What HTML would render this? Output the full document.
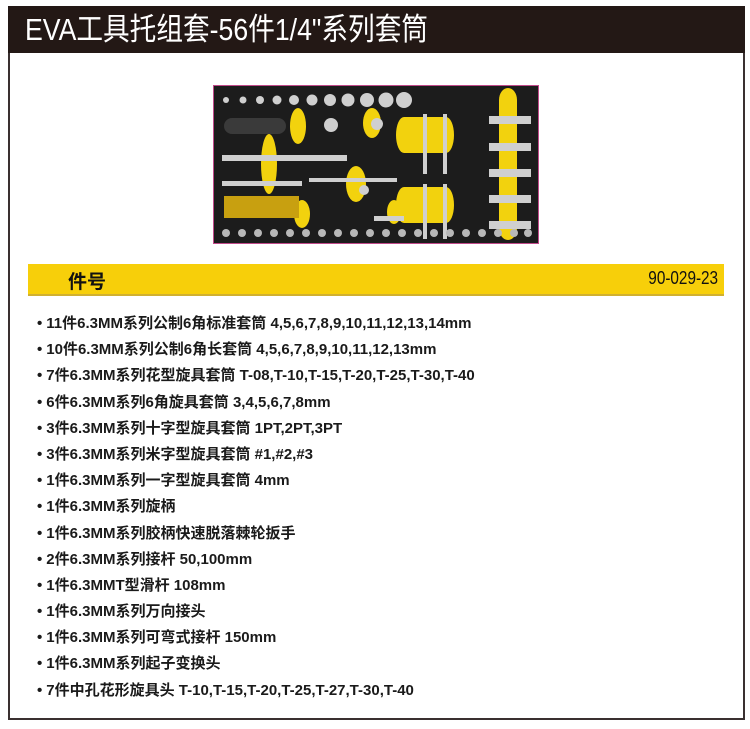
<!DOCTYPE html>
<html><head><meta charset="utf-8"><style>
*{margin:0;padding:0;box-sizing:border-box}
body{width:750px;height:729px;background:#fff;position:relative;overflow:hidden;font-family:"Liberation Sans","Noto Sans CJK SC",sans-serif}
.frame{position:absolute;left:8px;top:6px;width:737px;height:714px;border:2px solid #3a3030}
.hdr{position:absolute;left:8px;top:6px;width:737px;height:47px;background:#231815;color:#fff;font-size:31px;line-height:47px;padding-left:17px}
.hdr span{display:inline-block;transform:scaleX(.86);transform-origin:left;white-space:nowrap}
.photo{position:absolute;left:213px;top:85px;width:326px;height:159px;background:#1c1c1c;border:1px solid #c04a8a;overflow:hidden}
.bar{position:absolute;left:28px;top:264px;width:696px;height:32px;background:#f7cf0a;border-bottom:2px solid #d0b030}
.bar .l{position:absolute;left:40px;top:3px;font-size:19px;font-weight:bold;color:#111}
.bar .r{position:absolute;right:6px;top:4px;font-size:18px;color:#111;transform:scaleX(.85);transform-origin:right}
ul{position:absolute;left:37px;top:313px;list-style:none}
li{height:26.2px;line-height:22px;font-size:15px;font-weight:bold;color:#1a1a1a;white-space:nowrap}
li:before{content:"•";margin-right:4px}
</style></head><body>
<div class="frame"></div>
<div class="hdr"><span>EVA工具托组套-56件1/4"系列套筒</span></div>
<div class="photo">
<svg width="324" height="157" viewBox="0 0 324 157">
<g fill="#f2d20e">
<ellipse cx="294" cy="14" rx="9" ry="12"/><ellipse cx="294" cy="142" rx="9" ry="12"/><rect x="285" y="14" width="18" height="128"/>
<ellipse cx="190" cy="49" rx="8" ry="18"/><ellipse cx="232" cy="49" rx="8" ry="18"/><rect x="190" y="31" width="42" height="36"/>
<ellipse cx="190" cy="119" rx="8" ry="18"/><ellipse cx="232" cy="119" rx="8" ry="18"/><rect x="190" y="101" width="42" height="36"/>
<ellipse cx="84" cy="40" rx="8" ry="18"/><ellipse cx="55" cy="78" rx="8" ry="30"/>
<ellipse cx="88" cy="128" rx="8" ry="14"/>
<ellipse cx="158" cy="37" rx="9" ry="15"/><ellipse cx="180" cy="126" rx="7" ry="12"/>
<ellipse cx="142" cy="98" rx="10" ry="18"/>
</g>
<rect x="10" y="110" width="75" height="22" fill="#c8a010"/>
<g fill="#cfcfcf">
<rect x="8" y="69" width="125" height="6"/><rect x="8" y="95" width="80" height="5"/>
<rect x="95" y="92" width="88" height="4"/><rect x="160" y="130" width="30" height="5"/>
<rect x="275" y="30" width="42" height="8"/><rect x="275" y="57" width="42" height="8"/><rect x="275" y="83" width="42" height="8"/>
<rect x="275" y="109" width="42" height="8"/><rect x="275" y="135" width="42" height="8"/>
<rect x="209" y="28" width="4" height="60"/><rect x="229" y="28" width="4" height="60"/>
<rect x="209" y="98" width="4" height="55"/><rect x="229" y="98" width="4" height="55"/>
<circle cx="12" cy="14" r="3"/><circle cx="29" cy="14" r="3.5"/><circle cx="46" cy="14" r="4"/><circle cx="63" cy="14" r="4.5"/><circle cx="80" cy="14" r="5"/><circle cx="98" cy="14" r="5.5"/><circle cx="116" cy="14" r="6"/><circle cx="134" cy="14" r="6.5"/><circle cx="153" cy="14" r="7"/><circle cx="172" cy="14" r="7.5"/><circle cx="190" cy="14" r="8"/>
<circle cx="163" cy="38" r="6"/><circle cx="117" cy="39" r="7"/><circle cx="150" cy="104" r="5"/>
</g>
<rect x="10" y="32" width="62" height="16" rx="8" fill="#3a3a3a"/>
<g fill="#b8b8b8">
<circle cx="12" cy="147" r="4"/><circle cx="28" cy="147" r="4"/><circle cx="44" cy="147" r="4"/><circle cx="60" cy="147" r="4"/><circle cx="76" cy="147" r="4"/><circle cx="92" cy="147" r="4"/><circle cx="108" cy="147" r="4"/><circle cx="124" cy="147" r="4"/><circle cx="140" cy="147" r="4"/><circle cx="156" cy="147" r="4"/><circle cx="172" cy="147" r="4"/><circle cx="188" cy="147" r="4"/><circle cx="204" cy="147" r="4"/><circle cx="220" cy="147" r="4"/><circle cx="236" cy="147" r="4"/><circle cx="252" cy="147" r="4"/><circle cx="268" cy="147" r="4"/><circle cx="284" cy="147" r="4"/><circle cx="300" cy="147" r="4"/><circle cx="314" cy="147" r="4"/>
</g>
</svg>
</div>
<div class="bar"><span class="l">件号</span><span class="r">90-029-23</span></div>
<ul>
<li>11件6.3MM系列公制6角标准套筒 4,5,6,7,8,9,10,11,12,13,14mm</li>
<li>10件6.3MM系列公制6角长套筒 4,5,6,7,8,9,10,11,12,13mm</li>
<li>7件6.3MM系列花型旋具套筒 T-08,T-10,T-15,T-20,T-25,T-30,T-40</li>
<li>6件6.3MM系列6角旋具套筒 3,4,5,6,7,8mm</li>
<li>3件6.3MM系列十字型旋具套筒 1PT,2PT,3PT</li>
<li>3件6.3MM系列米字型旋具套筒 #1,#2,#3</li>
<li>1件6.3MM系列一字型旋具套筒 4mm</li>
<li>1件6.3MM系列旋柄</li>
<li>1件6.3MM系列胶柄快速脱落棘轮扳手</li>
<li>2件6.3MM系列接杆 50,100mm</li>
<li>1件6.3MMT型滑杆 108mm</li>
<li>1件6.3MM系列万向接头</li>
<li>1件6.3MM系列可弯式接杆 150mm</li>
<li>1件6.3MM系列起子变换头</li>
<li>7件中孔花形旋具头 T-10,T-15,T-20,T-25,T-27,T-30,T-40</li>
</ul>
</body></html>
